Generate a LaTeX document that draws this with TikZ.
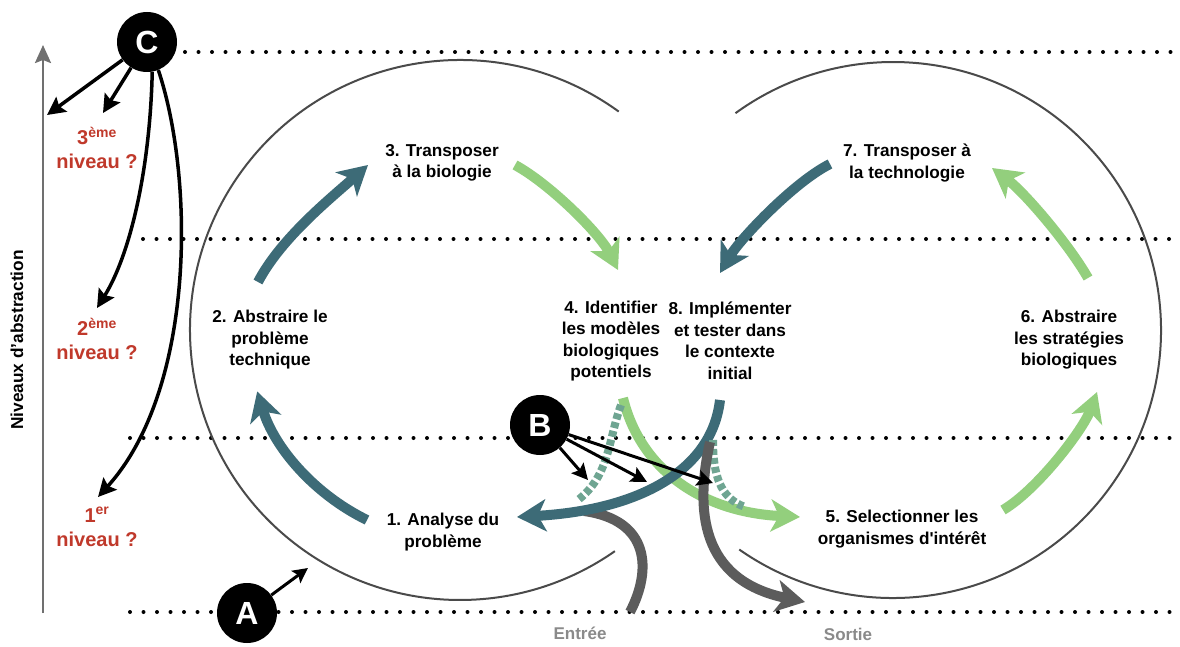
\documentclass[tikz,border=0pt]{standalone}
\usepackage{fontspec}
\setmainfont{Liberation Sans}
\usetikzlibrary{arrows.meta}
\definecolor{tealc}{HTML}{3D6B77}
\definecolor{greenc}{HTML}{93CF7D}
\definecolor{ringc}{HTML}{4A4A4A}
\definecolor{redlab}{HTML}{C0392B}
\definecolor{mixc}{HTML}{6FA592}
\definecolor{arrowgray}{HTML}{5C5C5C}
\definecolor{axisgray}{HTML}{707070}
\definecolor{iogray}{HTML}{8A8A8A}
\begin{document}
\begin{tikzpicture}[x=1pt,y=-1pt,
  dotline/.style={line width=4pt, line cap=round, dash pattern=on 0pt off 13.5pt},
  ring/.style={draw=ringc, line width=2pt},
  bighead/.style={-{Stealth[length=29pt,width=32pt,inset=8pt]}},
  tealarrow/.style={draw=tealc, line width=10pt, bighead},
  greenarrow/.style={draw=greenc, line width=10pt, bighead},
  grayarrow/.style={draw=arrowgray, line width=10pt},
  dashseg/.style={draw=mixc, line width=8pt, dash pattern=on 6pt off 3pt},
  blk/.style={draw=black, line width=3.5pt, -{Stealth[length=18pt,width=18pt,inset=3pt]}},
  lbl/.style={font=\fontsize{17.2}{21.5}\selectfont\bfseries, align=center, text=black, inner sep=0pt},
  redlbl/.style={font=\fontsize{20}{24}\selectfont\bfseries, align=center, text=redlab, inner sep=0pt},
  iolbl/.style={font=\fontsize{17}{20}\selectfont\bfseries, text=iogray, inner sep=0pt},
  marker/.style={circle, fill=black, text=white, minimum size=60pt, inner sep=0pt, font=\fontsize{32}{32}\selectfont\bfseries}
]
\fill[white] (0,0) rectangle (1180,647);
\useasboundingbox (0,0) rectangle (1180,647);

% dotted levels
\draw[dotline] (185,52) -- (1180,52);
\draw[dotline] (143,239) -- (1180,239);
\draw[dotline] (130,438) -- (1180,438);
\draw[dotline] (130,612) -- (1180,612);

% rings
\draw[ring] (460,330) ++(-54:270) arc[start angle=-54, end angle=-305, radius=270];
\draw[ring] (893,330) ++(125:268) arc[start angle=125, end angle=-126, radius=268];

% axis
\coordinate (axbot) at (43,613);
\coordinate (axtop) at (43,45);
\draw[axisgray, line width=2.5pt, -{Stealth[length=18pt,width=16pt,inset=3pt]}] (axbot) -- (axtop);

% coordinates for the cycle arrows
\coordinate (t1s) at (367,520);
\coordinate (t2s) at (258,282);  \coordinate (t2e) at (368,165);
\coordinate (g3s) at (515,165);  \coordinate (g3e) at (618,270);
\coordinate (t7s) at (830,164);  \coordinate (t7e) at (720,273);
\coordinate (g6s) at (1088,278); \coordinate (g6e) at (992,168);
\coordinate (g5s) at (1003,510); \coordinate (g5e) at (1097,392);
\coordinate (g4s) at (623,398);  \coordinate (g4e) at (800,517);
\coordinate (t8s) at (720,400);  \coordinate (t8e) at (517,517);
\coordinate (ins) at (630,612);  \coordinate (ine) at (584,511);
\coordinate (outs) at (710,442); \coordinate (oute) at (805,602);
\coordinate (dls) at (621,405);  \coordinate (dle) at (578,500);
\coordinate (drs) at (713,440);  \coordinate (dre) at (745,507);

% cycle arrows
\draw[tealarrow] (t1s) arc[start angle=116, end angle=163, radius=212];
\draw[tealarrow] (t2s) .. controls (281,238) and (331,198) .. (t2e);
\draw[greenarrow] (g3s) .. controls (550,184) and (600,234) .. (g3e);
\draw[tealarrow] (t7s) .. controls (794,182) and (740,239) .. (t7e);
\draw[greenarrow] (g6s) .. controls (1068,243) and (1024,192) .. (g6e);
\draw[greenarrow] (g5s) .. controls (1037,490) and (1083,430) .. (g5e);

% central crossing
\draw[greenarrow] (g4s) .. controls (640,468) and (700,512) .. (g4e);
\draw[dashseg] (dls) .. controls (608,440) and (610,475) .. (dle);
\draw[grayarrow] (ins) .. controls (652,570) and (650,520) .. (ine);
\draw[tealarrow] (t8s) .. controls (712,470) and (640,510) .. (t8e);
\draw[dashseg] (drs) .. controls (713,475) and (720,498) .. (dre);
\draw[grayarrow, bighead] (outs) .. controls (695,510) and (700,580) .. (oute);

% labels
\node[lbl] (L1) at (443,532) {1. Analyse du\\problème};
\node[lbl] (L2) at (270,340) {2. Abstraire le\\problème\\technique};
\node[lbl] (L3) at (442,163) {3. Transposer\\à la biologie};
\node[lbl] (L4) at (611,341) {4. Identifier\\les modèles\\biologiques\\potentiels};
\node[lbl] (L5) at (902,529) {5. Selectionner les\\organismes d\textquotesingle intérêt};
\node[lbl] (L6) at (1069,340) {6. Abstraire\\les stratégies\\biologiques};
\node[lbl] (L7) at (907,163) {7. Transposer à\\la technologie};
\node[lbl] (L8) at (730,341) {8. Implémenter\\et tester dans\\le contexte\\initial};

\node[redlbl] (lev3) at (97,148) {3\textsuperscript{ème}\\niveau ?};
\node[redlbl] (lev2) at (97,339) {2\textsuperscript{ème}\\niveau ?};
\node[redlbl] (lev1) at (97,527) {1\textsuperscript{er}\\niveau ?};

\node[rotate=90, font=\fontsize{17.3}{17.3}\selectfont\bfseries, inner sep=0pt] (axl) at (17,340) {Niveaux d'abstraction};

\node[iolbl] (entree) at (580,633) {Entrée};
\node[iolbl] (sortie) at (848,634) {Sortie};

% markers
\node[marker] (A) at (247,613) {A};
\node[marker] (B) at (540,425) {B};
\node[marker] (C) at (147,42) {C};

\coordinate (a1) at (308,568);
\coordinate (b1) at (588,480);
\coordinate (b2) at (647,482);
\coordinate (b3) at (713,483);
\coordinate (c1) at (47,115);
\coordinate (c2) at (103,113);
\coordinate (c3) at (97,308);
\coordinate (c4) at (98,497);

\draw[blk, line width=3pt, -{Stealth[length=15pt,width=15pt,inset=3pt]}] (A) -- (a1);
\draw[blk, line width=3pt, -{Stealth[length=16pt,width=16pt,inset=3pt]}] (B) -- (b1);
\draw[blk, line width=3pt, -{Stealth[length=16pt,width=16pt,inset=3pt]}] (B) -- (b2);
\draw[blk, line width=3pt, -{Stealth[length=16pt,width=16pt,inset=3pt]}] (B) -- (b3);
\draw[blk] (C) -- (c1);
\draw[blk] (C) -- (c2);
\draw[blk] (C.-80) .. controls (150,170) and (130,255) .. (c3);
\draw[blk] (C.-68) .. controls (195,180) and (195,390) .. (c4);
\end{tikzpicture}
\end{document}
